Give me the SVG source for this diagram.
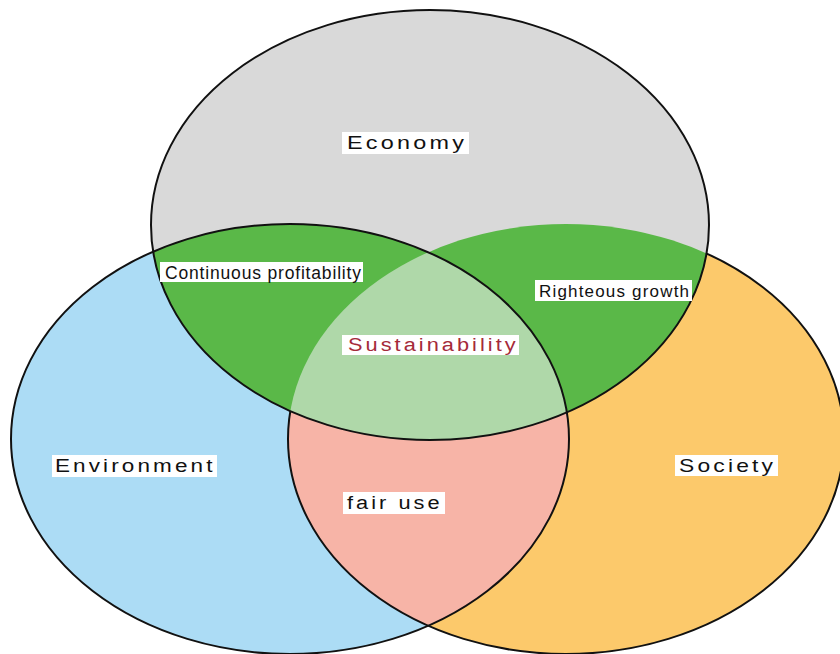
<svg xmlns="http://www.w3.org/2000/svg" width="840" height="654" viewBox="0 0 840 654">
<style>
.lbl{fill:#ffffff}
.t{font-family:"Liberation Sans",Arial,sans-serif;font-size:17px;fill:#111111}
.w{letter-spacing:2.5px;font-size:18px}
.red{fill:#a52a3a}
.ol{fill:none;stroke:#111111;stroke-width:2}
</style>
<defs>
<ellipse id="eEco" cx="430" cy="225" rx="279" ry="215"/>
<ellipse id="eEnv" cx="290" cy="439" rx="279" ry="215"/>
<ellipse id="eSoc" cx="566" cy="439" rx="278" ry="215"/>
<clipPath id="cEco"><use href="#eEco"/></clipPath>
<clipPath id="cEnv"><use href="#eEnv"/></clipPath>
<clipPath id="cSoc"><use href="#eSoc"/></clipPath>
</defs>
<rect width="840" height="654" fill="#ffffff"/>
<g id="environment">
<use href="#eEnv" fill="#acdcf5"/>
</g>
<g id="society">
<use href="#eSoc" fill="#fcc96b"/>
<g clip-path="url(#cEnv)"><use href="#eSoc" fill="#f7b4a7"/></g>
<use href="#eSoc" class="ol" stroke-width="1.6"/>
</g>
<g id="economy">
<use href="#eEco" fill="#d9d9d9"/>
<g clip-path="url(#cEco)">
<use href="#eEnv" fill="#5ab848"/>
<use href="#eSoc" fill="#5ab848"/>
<g clip-path="url(#cEnv)"><use href="#eSoc" fill="#afd8a9"/></g>
</g>
</g>
<g id="connectors">
<use href="#eEnv" class="ol"/>
<use href="#eEco" class="ol"/>
</g>
<g id="label-economy">
<rect class="lbl" x="342" y="132" width="127" height="22"/>
<text class="t w" transform="translate(347,149) scale(1.3,1)">Economy</text>
</g>
<g id="label-continuous">
<rect class="lbl" x="160" y="262" width="203" height="20"/>
<text class="t" x="165" y="279" textLength="196" style="font-size:17.5px">Continuous profitability</text>
</g>
<g id="label-righteous">
<rect class="lbl" x="535" y="280" width="157" height="21"/>
<text class="t" x="539" y="297" textLength="150">Righteous growth</text>
</g>
<g id="label-sustainability">
<rect class="lbl" x="342" y="335" width="177" height="20"/>
<text class="t w red" transform="translate(348,351) scale(1.21,1)">Sustainability</text>
</g>
<g id="label-environment">
<rect class="lbl" x="52" y="455" width="165" height="22"/>
<text class="t w" transform="translate(55,472) scale(1.25,1)">Environment</text>
</g>
<g id="label-society">
<rect class="lbl" x="675" y="455" width="103" height="21"/>
<text class="t w" transform="translate(679,472) scale(1.27,1)">Society</text>
</g>
<g id="label-fairuse">
<rect class="lbl" x="343" y="492" width="102" height="22"/>
<text class="t w" transform="translate(347,509) scale(1.21,1)">fair use</text>
</g>
</svg>
